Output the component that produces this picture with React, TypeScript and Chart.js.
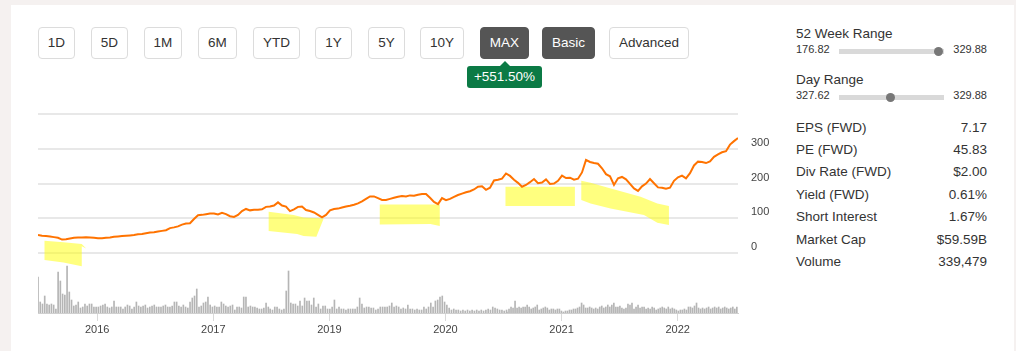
import React, { useEffect, useRef } from 'react';
import { Chart, registerables } from 'chart.js';

Chart.register(...registerables);

// ---------- DATA ----------
const RANGE_BUTTONS = ['1D', '5D', '1M', '6M', 'YTD', '1Y', '5Y', '10Y', 'MAX'];
const MODE_BUTTONS = ['Basic', 'Advanced'];
const CHANGE_LABEL = '+551.50%';

const X_START = 2015.49;
const X_END = 2021.52;
const TICK_POSITIONS = [2016, 2017, 2018, 2019, 2020, 2021];
const TICK_LABELS = ['2016', '2017', '2019', '2020', '2021', '2022'];
const Y_TICKS = [0, 100, 200, 300, 400];
const Y_MIN = -60;
const Y_MAX = 400;

// price, sampled evenly from start to end
const PRICE_VALUES = [
  52, 50, 49, 48, 46, 44, 39, 40, 42, 44, 45, 45, 46, 45, 44, 43, 43, 44, 45, 47,
  48, 49, 50, 51, 52, 54, 55, 57, 59, 60, 62, 64, 66, 72, 74, 77, 82, 85, 86, 98,
  109, 110, 112, 114, 114, 111, 116, 112, 106, 104, 110, 121, 127, 123, 125, 125, 126, 133, 134, 137,
  146, 137, 134, 121, 126, 133, 134, 124, 121, 117, 110, 103, 110, 123, 127, 128, 131, 134, 136, 139,
  143, 149, 156, 163, 163, 158, 153, 153, 156, 159, 162, 164, 163, 166, 165, 168, 170, 170, 159, 147,
  141, 158, 152, 156, 162, 167, 171, 175, 178, 183, 191, 192, 182, 188, 209, 211, 214, 229, 222, 211,
  202, 191, 196, 204, 213, 201, 203, 212, 199, 200, 208, 223, 216, 217, 211, 214, 232, 268, 262, 259,
  257, 244, 227, 221, 196, 215, 219, 212, 199, 186, 179, 192, 200, 213, 201, 189, 188, 185, 188, 208,
  218, 223, 215, 230, 252, 263, 262, 259, 264, 277, 284, 290, 293, 312, 322, 331,
];

// volume, three periods each sampled evenly
const VOLUME_PERIODS = [
  [2015.49, 2017.474],
  [2017.49, 2019.526],
  [2019.53, 2021.51],
];
const VOLUME_A = [
  36, 11, 9, 17, 9, 8, 9, 8, 4, 41, 32, 19, 18, 47, 21, 13, 7, 8, 11, 5,
  6, 9, 7, 9, 9, 6, 6, 6, 7, 8, 9, 6, 5, 6, 12, 6, 6, 6, 4, 6,
  8, 7, 4, 6, 11, 7, 6, 7, 8, 5, 6, 7, 8, 6, 6, 6, 7, 8, 6, 6,
  7, 11, 11, 7, 6, 8, 6, 5, 11, 15, 17, 24, 6, 7, 10, 11, 16, 8, 6, 7,
  6, 6, 11, 9, 7, 6, 7, 8, 3, 6, 6, 5, 16, 16, 6, 7, 6, 6, 5, 4,
  4, 5, 10, 6,
];
const VOLUME_B = [
  4, 3, 6, 6, 4, 3, 4, 22, 42, 10, 9, 9, 7, 12, 7, 15, 12, 12, 8, 15,
  6, 9, 4, 7, 7, 4, 4, 6, 13, 4, 6, 4, 4, 3, 4, 4, 4, 4, 6, 15,
  9, 5, 6, 6, 5, 5, 3, 4, 6, 6, 6, 6, 7, 10, 6, 7, 6, 4, 5, 4,
  8, 4, 4, 3, 4, 3, 3, 6, 4, 6, 10, 6, 12, 13, 16, 17, 11, 8, 5, 3,
  4, 3, 3, 2, 3, 2, 3, 2, 3, 2, 3, 2, 3, 2, 3, 4, 3, 6, 5, 4,
  3, 3, 2, 3,
];
const VOLUME_C = [
  1, 4, 6, 5, 12, 5, 6, 5, 6, 6, 8, 6, 4, 5, 6, 8, 3, 4, 5, 6,
  5, 3, 4, 4, 3, 4, 4, 2, 1, 2, 2, 3, 3, 4, 4, 5, 6, 10, 8, 5,
  5, 6, 5, 4, 5, 4, 6, 7, 5, 6, 8, 6, 8, 10, 6, 6, 7, 5, 4, 5,
  9, 8, 10, 4, 6, 8, 5, 6, 6, 4, 5, 4, 6, 5, 3, 4, 5, 6, 5, 4,
  6, 4, 5, 4, 3, 2, 3, 3, 4, 3, 6, 6, 5, 7, 10, 5, 4, 5, 4, 5,
  6, 4, 5, 6, 5, 6, 4, 5, 6, 5, 4, 5, 6, 4, 6,
];
const VOLUME_MAX = 50;

// hand-drawn highlighter marks, in chart (x, price) units
const HIGHLIGHTS = [
  [[2015.546, 35.4], [2015.709, 31], [2015.867, 25.9], [2015.905, 13.5], [2015.867, 20], [2015.867, -37.4], [2015.709, -26.8], [2015.546, -20.1]],
  [[2017.477, 118.8], [2017.692, 109.4], [2017.778, 102.7], [2017.951, 99.9], [2017.888, 46.9], [2017.778, 48.9], [2017.722, 54.7], [2017.477, 63.3]],
  [[2018.434, 140.1], [2018.951, 140.1], [2018.951, 77.7], [2018.871, 83.5], [2018.434, 82.6]],
  [[2019.517, 190.8], [2020.115, 190.8], [2020.115, 135.3], [2019.517, 135.3]],
  [[2020.170, 208], [2020.250, 202.3], [2020.394, 189], [2020.681, 162], [2020.825, 143], [2020.925, 135.3], [2020.925, 80.6], [2020.825, 87.2], [2020.710, 109.4], [2020.422, 128.6], [2020.336, 135.3], [2020.250, 143], [2020.170, 152.5]],
];

const RANGE_ROWS = [
  { title: '52 Week Range', low: '176.82', high: '329.88', pos: 0.952 },
  { title: 'Day Range', low: '327.62', high: '329.88', pos: 0.486 },
];
const STAT_LABELS = ['EPS (FWD)', 'PE (FWD)', 'Div Rate (FWD)', 'Yield (FWD)', 'Short Interest', 'Market Cap', 'Volume'];
const STAT_VALUES = ['7.17', '45.83', '$2.00', '0.61%', '1.67%', '$59.59B', '339,479'];

// ---------- STYLE / LAYOUT ----------
const FONT = '"Liberation Sans", Arial, Helvetica, sans-serif';
const BTN_LEFTS = [38, 91, 144, 198, 253, 315, 368, 420, 480, 542, 609];
const BTN_WIDTHS = [37, 37, 38, 39, 47, 37, 37, 44, 49, 53, 80];
const ACTIVE = ['MAX', 'Basic'];

const highlightPlugin = {
  id: 'highlights',
  beforeDatasetsDraw(chart: any) {
    const { ctx, scales } = chart;
    const xs = scales.x;
    const ys = scales.y;
    ctx.save();
    ctx.fillStyle = 'rgba(255,255,0,0.5)';
    for (const poly of HIGHLIGHTS) {
      ctx.beginPath();
      poly.forEach(([px, py]: number[], i: number) => {
        const X = xs.getPixelForValue(px);
        const Y = ys.getPixelForValue(py);
        if (i === 0) ctx.moveTo(X, Y);
        else ctx.lineTo(X, Y);
      });
      ctx.closePath();
      ctx.fill();
    }
    ctx.restore();
  },
};

function buildVolume() {
  const parts = [VOLUME_A, VOLUME_B, VOLUME_C];
  const out: { x: number; y: number }[] = [];
  parts.forEach((arr, k) => {
    const [s, e] = VOLUME_PERIODS[k];
    arr.forEach((v, i) => {
      out.push({ x: s + (i * (e - s)) / (arr.length - 1), y: v });
    });
  });
  return out;
}

export default function App() {
  const priceRef = useRef<HTMLCanvasElement>(null);
  const volRef = useRef<HTMLCanvasElement>(null);

  useEffect(() => {
    const n = PRICE_VALUES.length;
    const priceData = PRICE_VALUES.map((v, i) => ({ x: X_START + (i * (X_END - X_START)) / (n - 1), y: v }));
    const tickFont = { family: FONT, size: 11 };

    const price = new Chart(priceRef.current!, {
      type: 'line',
      data: {
        datasets: [
          {
            data: priceData,
            borderColor: '#ff7300',
            borderWidth: 2,
            pointRadius: 0,
            tension: 0,
            fill: false,
          },
        ],
      },
      options: {
        animation: false,
        responsive: false,
        maintainAspectRatio: false,
        devicePixelRatio: 1,
        layout: { padding: { top: 10, left: 0, right: 0, bottom: 0 } },
        plugins: { legend: { display: false }, tooltip: { enabled: false } },
        scales: {
          x: { type: 'linear', min: X_START, max: X_END, display: false },
          y: {
            position: 'right',
            min: Y_MIN,
            max: Y_MAX,
            afterBuildTicks: (axis: any) => {
              axis.ticks = Y_TICKS.map((v) => ({ value: v }));
            },
            afterFit: (axis: any) => {
              axis.width = 40;
              axis.paddingTop = 0;
              axis.paddingBottom = 0;
            },
            grid: { color: '#e8e8e8', lineWidth: 2, drawTicks: false },
            border: { display: false },
            ticks: {
              padding: 13,
              labelOffset: -6,
              color: '#444',
              font: tickFont,
              autoSkip: false,
              callback: (v: any) => (v === Y_MAX ? '' : String(v)),
            },
          },
        },
      },
      plugins: [highlightPlugin],
    } as any);

    const vol = new Chart(volRef.current!, {
      type: 'bar',
      data: {
        datasets: [
          {
            data: buildVolume(),
            backgroundColor: '#b5b5b5',
            barThickness: 1,
            borderWidth: 0,
          },
        ],
      },
      options: {
        animation: false,
        responsive: false,
        maintainAspectRatio: false,
        devicePixelRatio: 1,
        layout: { padding: { top: 8, left: 0, right: 0, bottom: 0 } },
        plugins: { legend: { display: false }, tooltip: { enabled: false } },
        scales: {
          x: {
            type: 'linear',
            min: X_START,
            max: X_END,
            offset: false,
            afterBuildTicks: (axis: any) => {
              axis.ticks = TICK_POSITIONS.map((v) => ({ value: v }));
            },
            afterFit: (axis: any) => {
              axis.height = 30;
              axis.paddingLeft = 0;
              axis.paddingRight = 0;
            },
            grid: { offset: false, drawOnChartArea: false, drawTicks: true, tickLength: 8, color: '#dadada', lineWidth: 1 },
            border: { display: true, color: '#d0d0d0', width: 1 },
            ticks: {
              autoSkip: false,
              maxRotation: 0,
              padding: 2,
              color: '#444',
              font: tickFont,
              callback: (_v: any, i: number) => TICK_LABELS[i],
            },
          },
          y: {
            position: 'right',
            min: 0,
            max: VOLUME_MAX,
            afterFit: (axis: any) => {
              axis.width = 40;
              axis.paddingTop = 0;
              axis.paddingBottom = 0;
            },
            grid: { display: false },
            border: { display: false },
            ticks: { display: false },
          },
        },
      },
    } as any);

    return () => {
      price.destroy();
      vol.destroy();
    };
  }, []);

  const btnStyle = (label: string, i: number): React.CSSProperties => {
    const active = ACTIVE.includes(label);
    return {
      position: 'absolute',
      left: BTN_LEFTS[i],
      top: 27,
      width: BTN_WIDTHS[i],
      height: 32,
      boxSizing: 'border-box',
      border: `1px solid ${active ? '#555' : '#dcdcdc'}`,
      borderRadius: 4,
      background: active ? '#555' : '#fff',
      color: active ? '#fff' : '#333',
      font: `13.5px ${FONT}`,
      lineHeight: '30px',
      textAlign: 'center',
    };
  };

  const allButtons = [...RANGE_BUTTONS, ...MODE_BUTTONS];
  const textStyle = (left: number, centerY: number, size: number, align: 'left' | 'right' = 'left'): React.CSSProperties => ({
    position: 'absolute',
    top: centerY - 8,
    height: 16,
    lineHeight: '16px',
    font: `${size}px ${FONT}`,
    color: '#333',
    whiteSpace: 'nowrap',
    ...(align === 'left' ? { left } : { right: 1016 - left }),
  });

  return (
    <div style={{ position: 'absolute', left: 0, top: 0, width: 1016, height: 351, background: '#f5f1f0', overflow: 'hidden', fontFamily: FONT }}>
      <div style={{ position: 'absolute', left: 11, top: 5, width: 1003, height: 346, background: '#fff' }} />
      {allButtons.map((b, i) => (
        <div key={b} style={btnStyle(b, i)}>
          {b}
        </div>
      ))}
      {/* change badge */}
      <div style={{ position: 'absolute', left: 500, top: 61, width: 0, height: 0, borderLeft: '5px solid transparent', borderRight: '5px solid transparent', borderBottom: '5px solid #0b7a45' }} />
      <div
        style={{
          position: 'absolute',
          left: 467,
          top: 66,
          width: 75,
          height: 22,
          background: '#0b7a45',
          borderRadius: 3,
          color: '#fff',
          font: `13.5px ${FONT}`,
          lineHeight: '22px',
          textAlign: 'center',
        }}
      >
        {CHANGE_LABEL}
      </div>

      {/* charts */}
      <canvas ref={volRef} width={740} height={88} style={{ position: 'absolute', left: 38, top: 255, width: 740, height: 88 }} />
      <canvas ref={priceRef} width={740} height={170} style={{ position: 'absolute', left: 38, top: 104, width: 740, height: 170 }} />

      {/* right panel */}
      {RANGE_ROWS.map((r, k) => {
        const cy = 34 + k * 46;
        const cy2 = cy + 17;
        return (
          <React.Fragment key={r.title}>
            <div style={textStyle(796, cy, 13.5)}>{r.title}</div>
            <div style={textStyle(796, cy2, 11)}>{r.low}</div>
            <div style={{ position: 'absolute', left: 839, top: cy2 - 2, width: 105, height: 5, background: '#d9d9d9' }} />
            <div
              style={{
                position: 'absolute',
                left: 839 + r.pos * 105 - 4.5,
                top: cy2 - 4.5,
                width: 9,
                height: 9,
                borderRadius: '50%',
                background: '#777',
              }}
            />
            <div style={textStyle(987, cy2, 11, 'right')}>{r.high}</div>
          </React.Fragment>
        );
      })}
      {STAT_LABELS.map((l, i) => {
        const cy = 127.5 + i * 22.4;
        return (
          <React.Fragment key={l}>
            <div style={textStyle(796, cy, 13.5)}>{l}</div>
            <div style={textStyle(987, cy, 13.5, 'right')}>{STAT_VALUES[i]}</div>
          </React.Fragment>
        );
      })}
    </div>
  );
}
